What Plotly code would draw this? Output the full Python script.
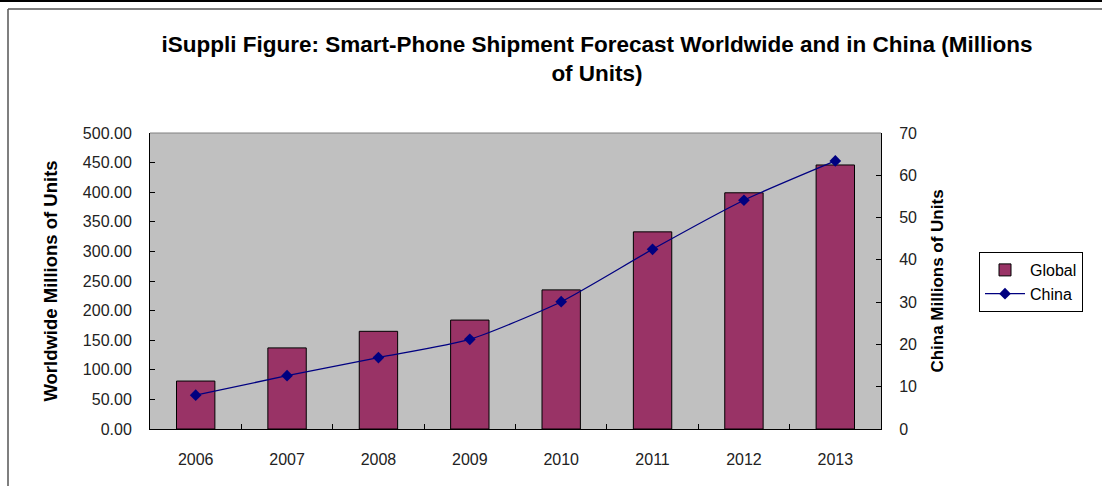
import plotly.graph_objects as go

years = ["2006", "2007", "2008", "2009", "2010", "2011", "2012", "2013"]
global_units = [81, 137, 165, 184, 235, 333, 399, 446]
china_units = [8.0, 12.6, 16.9, 21.2, 30.1, 42.5, 54.1, 63.4]

W, H = 1102, 486
L, R, T, B = 150, 881, 133, 429

def px_x(x):
    return (x - L) / (R - L)

def px_y(y):
    return (B - y) / (B - T)

fig = go.Figure()
fig.add_trace(go.Bar(
    x=years, y=global_units, name="Global",
    marker=dict(color="#993366", line=dict(color="black", width=1)),
    width=0.42, yaxis="y",
))
fig.add_trace(go.Scatter(
    x=years, y=china_units, name="China", mode="lines+markers",
    line=dict(color="#000080", width=1.3, shape="spline", smoothing=0.6),
    marker=dict(symbol="diamond", size=9, color="#000080"),
    yaxis="y2",
))

font = dict(family="Arial, Liberation Sans, sans-serif", size=16, color="#222")

fig.update_layout(
    width=W, height=H,
    margin=dict(l=L, r=W - R, t=T, b=H - B),
    paper_bgcolor="white", plot_bgcolor="#C0C0C0",
    font=font,
    title=dict(
        text="<b>iSuppli Figure: Smart-Phone Shipment Forecast Worldwide and in China (Millions<br>of Units)</b>",
        x=597 / W, xanchor="center", xref="container",
        y=1 - 52 / H, yanchor="top", yref="container",
        font=dict(family="Arial, Liberation Sans, sans-serif", size=22.5, color="black"),
    ),
    xaxis=dict(
        showgrid=False, showline=True, linecolor="black", linewidth=1,
        ticks="inside", tickson="boundaries", ticklen=5, tickcolor="black",
        mirror=False, ticklabelstandoff=16,
    ),
    yaxis=dict(
        range=[0, 500], dtick=50, tickformat=".2f",
        showgrid=False, showline=True, linecolor="black", linewidth=1,
        ticks="inside", ticklen=5, tickcolor="black", ticklabelstandoff=14,
        zeroline=False,
        title=dict(text="<b>Worldwide Millions of Units</b>", standoff=20,
                   font=dict(size=18.5, color="black")),
    ),
    yaxis2=dict(
        range=[0, 70], dtick=10, overlaying="y", side="right",
        showgrid=False, showline=True, linecolor="black", linewidth=1,
        ticks="inside", ticklen=5, tickcolor="black", ticklabelstandoff=14,
        zeroline=False,
        title=dict(text="<b>China Millions of Units</b>", standoff=15,
                   font=dict(size=17, color="black")),
    ),
    legend=dict(
        x=px_x(979), y=px_y(252), xanchor="left", yanchor="top",
        bordercolor="black", borderwidth=1, bgcolor="white",
        font=dict(size=16, color="black"), tracegroupgap=2, itemwidth=40,
    ),
    bargap=0.58,
    showlegend=True,
)

# plot area top border (gray)
fig.add_shape(type="line", xref="paper", yref="paper", x0=0, x1=1, y0=1, y1=1,
              line=dict(color="#808080", width=1))
# outer chart frame
fig.add_shape(type="line", xref="paper", yref="paper",
              x0=px_x(0), x1=px_x(W), y0=px_y(1), y1=px_y(1),
              line=dict(color="black", width=2))
fig.add_shape(type="line", xref="paper", yref="paper",
              x0=px_x(8), x1=px_x(W), y0=px_y(9), y1=px_y(9),
              line=dict(color="#555", width=1.5))
fig.add_shape(type="line", xref="paper", yref="paper",
              x0=px_x(8), x1=px_x(8), y0=px_y(9), y1=px_y(H),
              line=dict(color="#555", width=1.5))

fig.write_html("out.html", config={"displayModeBar": False},
               post_script="document.body.style.margin='0';")
